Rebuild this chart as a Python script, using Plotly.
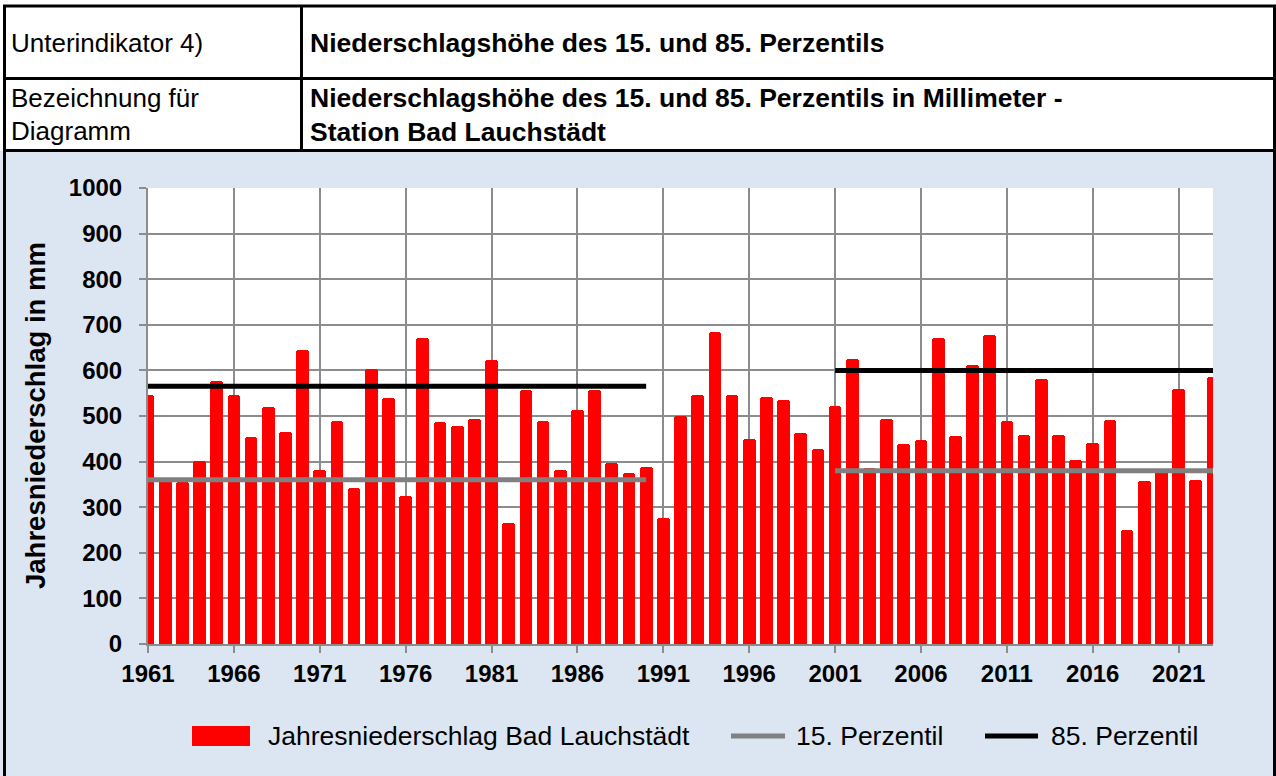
import plotly.graph_objects as go

# ---------------- data ----------------
years = list(range(1961, 2024))
precip = [547, 358, 356, 402, 576, 547, 455, 519, 464, 645,
          382, 489, 342, 604, 539, 325, 671, 487, 477, 493,
          623, 266, 556, 490, 382, 513, 557, 397, 374, 388,
          277, 499, 547, 685, 546, 450, 542, 535, 462, 428,
          521, 626, 386, 493, 438, 447, 670, 456, 612, 677,
          490, 459, 582, 458, 404, 441, 491, 250, 358, 383,
          559, 360, 585]
p_period1 = [1961, 1990]
p_period2 = [2001, 2023]
p15_values = [360, 380]
p85_values = [565, 600]
xtick_years = list(range(1961, 2024, 5))
ytick_vals = list(range(0, 1001, 100))

bar_name = "Jahresniederschlag Bad Lauchstädt"
p15_name = "15. Perzentil"
p85_name = "85. Perzentil"

# ---------------- layout geometry ----------------
W, H = 1276, 776
L, R, T, B = 148, 1213, 188, 644
FONT = "Liberation Sans, Arial, sans-serif"
BG = "#dce6f2"
GRID = "#8c8c8c"


def px(x):
    return (x - L) / (R - L)


def py(y):
    return (B - y) / (B - T)


fig = go.Figure()
fig.add_trace(go.Bar(x=years, y=precip, name=bar_name, width=0.74,
                     marker=dict(color="#ff0000", line=dict(width=0), cornerradius=3),
                     showlegend=False))
fig.add_trace(go.Scatter(x=p_period1, y=[p15_values[0]] * 2, mode="lines", name=p15_name,
                         line=dict(color="#808080", width=5), showlegend=False))
fig.add_trace(go.Scatter(x=p_period2, y=[p15_values[1]] * 2, mode="lines", name=p15_name,
                         line=dict(color="#808080", width=5), showlegend=False))
fig.add_trace(go.Scatter(x=p_period1, y=[p85_values[0]] * 2, mode="lines", name=p85_name,
                         line=dict(color="#000000", width=5), showlegend=False))
fig.add_trace(go.Scatter(x=p_period2, y=[p85_values[1]] * 2, mode="lines", name=p85_name,
                         line=dict(color="#000000", width=5), showlegend=False))

shapes = []
# header white area
shapes.append(dict(type="rect", xref="paper", yref="paper", x0=px(0), x1=px(W), y0=py(0), y1=py(151),
                   fillcolor="white", line=dict(width=0), layer="below"))
blk = dict(color="black", width=3)
# borders
shapes.append(dict(type="line", xref="paper", yref="paper", x0=px(3), x1=px(W), y0=py(6), y1=py(6), line=blk))
shapes.append(dict(type="line", xref="paper", yref="paper", x0=px(4.5), x1=px(4.5), y0=py(5), y1=py(H + 5), line=blk))
shapes.append(dict(type="line", xref="paper", yref="paper", x0=px(1274.5), x1=px(1274.5), y0=py(5), y1=py(H + 5), line=blk))
shapes.append(dict(type="line", xref="paper", yref="paper", x0=px(3), x1=px(W), y0=py(78.5), y1=py(78.5), line=blk))
shapes.append(dict(type="line", xref="paper", yref="paper", x0=px(3), x1=px(W), y0=py(150.5), y1=py(150.5), line=blk))
shapes.append(dict(type="line", xref="paper", yref="paper", x0=px(301.5), x1=px(301.5), y0=py(5), y1=py(150), line=blk))

# manual legend
ly = py(736)
shapes.append(dict(type="rect", xref="paper", yref="paper", x0=px(192), x1=px(250), y0=py(746), y1=py(726),
                   fillcolor="#ff0000", line=dict(width=0)))
shapes.append(dict(type="line", xref="paper", yref="paper", x0=px(731), x1=px(785), y0=ly, y1=ly,
                   line=dict(color="#808080", width=5)))
shapes.append(dict(type="line", xref="paper", yref="paper", x0=px(985), x1=px(1038), y0=ly, y1=ly,
                   line=dict(color="#000000", width=5)))

annotations = []


def txt(x, y, s, size=23, bold=False, anchor="left"):
    annotations.append(dict(xref="paper", yref="paper", x=px(x), y=py(y), text=s, showarrow=False,
                            xanchor=anchor, yanchor="middle",
                            font=dict(family=FONT, size=size, color="black",
                                      weight="bold" if bold else "normal")))


txt(9, 43, "Unterindikator 4)", size=26)
txt(308, 43, "Niederschlagshöhe des 15. und 85. Perzentils", size=26.5, bold=True)
txt(9, 98, "Bezeichnung für", size=26)
txt(9, 131, "Diagramm", size=26)
txt(308, 98, "Niederschlagshöhe des 15. und 85. Perzentils in Millimeter -", size=26.5, bold=True)
txt(308, 132, "Station Bad Lauchstädt", size=26.5, bold=True)

txt(266, 736, bar_name, size=26.5)
txt(794, 736, p15_name, size=26.5)
txt(1049, 736, p85_name, size=26.5)

annotations.append(dict(xref="paper", yref="paper", x=px(35), y=0.5, text="Jahresniederschlag in mm",
                        textangle=-90, showarrow=False, xanchor="center", yanchor="middle",
                        font=dict(family=FONT, size=27.5, color="black", weight="bold")))

fig.update_layout(
    width=W, height=H,
    margin=dict(l=L, r=W - R, t=T, b=H - B, pad=0),
    paper_bgcolor=BG, plot_bgcolor="white",
    bargap=0, showlegend=False,
    shapes=shapes, annotations=annotations,
    font=dict(family=FONT, color="black"),
    xaxis=dict(range=[1961, 2023], tickvals=xtick_years, ticktext=[str(v) for v in xtick_years],
               showgrid=True, gridcolor=GRID, gridwidth=2, ticks="outside", ticklen=7, tickwidth=2,
               tickcolor=GRID, showline=True, linecolor=GRID, linewidth=2, zeroline=False,
               tickfont=dict(family=FONT, size=24, color="black", weight="bold"),
               fixedrange=True),
    yaxis=dict(range=[0, 1000], tickvals=ytick_vals, showgrid=True, gridcolor=GRID, gridwidth=2,
               ticks="outside", ticklen=7, tickwidth=2, tickcolor=GRID, showline=True, linecolor=GRID,
               linewidth=2, zeroline=False, ticklabelstandoff=12,
               tickfont=dict(family=FONT, size=24, color="black", weight="bold"),
               fixedrange=True),
)

fig.write_html("out.html", config={"displayModeBar": False},
               post_script="document.body.style.margin='0';")
